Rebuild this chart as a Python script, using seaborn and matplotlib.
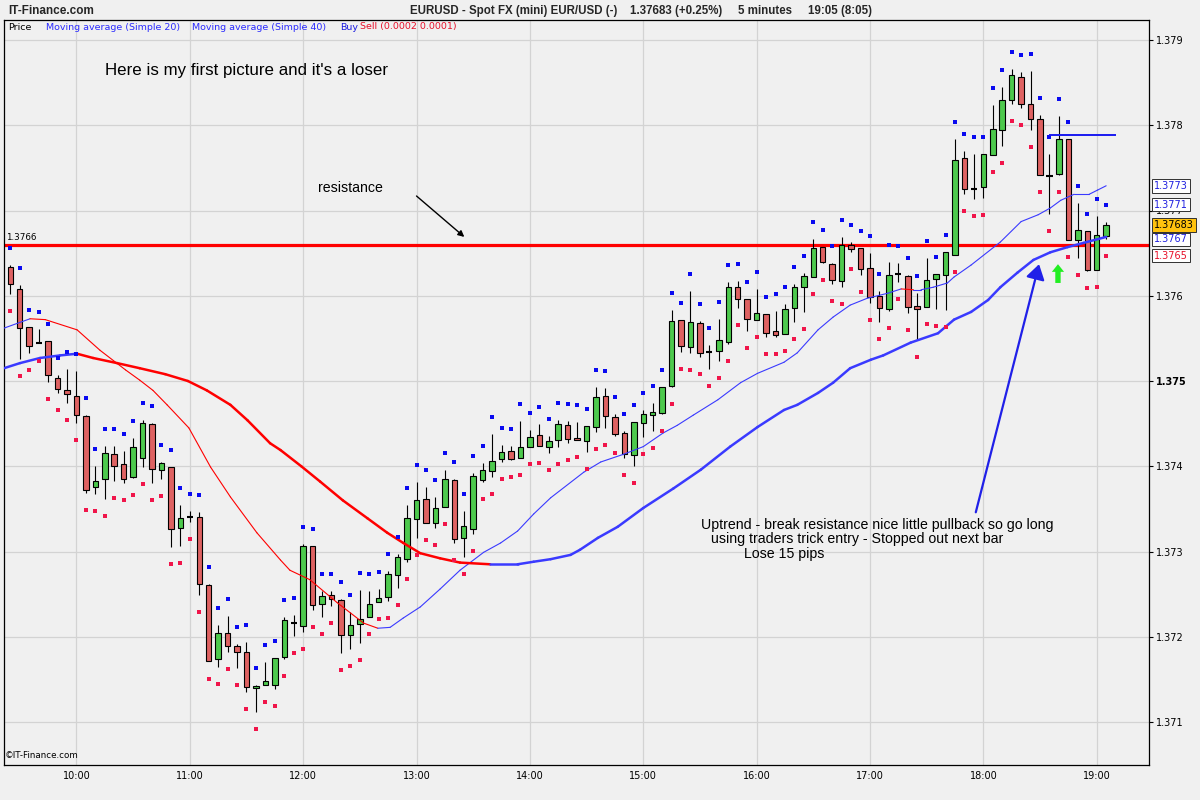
import numpy as np
import pandas as pd
import matplotlib
matplotlib.use("Agg")
import matplotlib.pyplot as plt
import seaborn as sns
from matplotlib.collections import LineCollection
from matplotlib.transforms import blended_transform_factory

# ---------------- data (EURUSD 5-minute bars) ----------------
start_time = "09:25"
opens = [1.37634, 1.37608, 1.37563, 1.37545, 1.37547, 1.37504, 1.37489, 1.37482, 1.37459, 1.37376,
         1.37385, 1.37414, 1.37403, 1.37387, 1.37410, 1.37450, 1.37396, 1.37399, 1.37328, 1.37340,
         1.37340, 1.37261, 1.37174, 1.37204, 1.37189, 1.37182, 1.37140, 1.37143, 1.37143, 1.37176,
         1.37216, 1.37213, 1.37306, 1.37238, 1.37249, 1.37243, 1.37202, 1.37215, 1.37223, 1.37241,
         1.37247, 1.37272, 1.37291, 1.37338, 1.37362, 1.37333, 1.37352, 1.37384, 1.37316, 1.37326,
         1.37384, 1.37394, 1.37409, 1.37418, 1.37410, 1.37423, 1.37437, 1.37423, 1.37431, 1.37448,
         1.37433, 1.37430, 1.37446, 1.37482, 1.37458, 1.37439, 1.37413, 1.37451, 1.37460, 1.37462,
         1.37494, 1.37572, 1.37540, 1.37568, 1.37534, 1.37535, 1.37546, 1.37610, 1.37596, 1.37572,
         1.37579, 1.37559, 1.37555, 1.37586, 1.37610, 1.37622, 1.37657, 1.37637, 1.37617, 1.37660,
         1.37656, 1.37633, 1.37600, 1.37584, 1.37625, 1.37623, 1.37588, 1.37587, 1.37620, 1.37624,
         1.37648, 1.37762, 1.37725, 1.37728, 1.37765, 1.37794, 1.37830, 1.37857, 1.37825, 1.37807,
         1.37740, 1.37743, 1.37784, 1.37665, 1.37676, 1.37630, 1.37670]
highs = [1.37636, 1.37613, 1.37563, 1.37561, 1.37547, 1.37507, 1.37514, 1.37512, 1.37460, 1.37400,
         1.37424, 1.37424, 1.37418, 1.37433, 1.37454, 1.37451, 1.37405, 1.37399, 1.37355, 1.37348,
         1.37346, 1.37262, 1.37214, 1.37224, 1.37192, 1.37194, 1.37143, 1.37170, 1.37175, 1.37223,
         1.37226, 1.37309, 1.37306, 1.37254, 1.37254, 1.37244, 1.37229, 1.37255, 1.37254, 1.37256,
         1.37277, 1.37297, 1.37355, 1.37382, 1.37376, 1.37364, 1.37396, 1.37385, 1.37348, 1.37392,
         1.37404, 1.37438, 1.37425, 1.37424, 1.37453, 1.37443, 1.37450, 1.37436, 1.37454, 1.37453,
         1.37452, 1.37447, 1.37493, 1.37492, 1.37461, 1.37441, 1.37452, 1.37466, 1.37474, 1.37493,
         1.37583, 1.37572, 1.37606, 1.37570, 1.37542, 1.37573, 1.37616, 1.37617, 1.37596, 1.37608,
         1.37579, 1.37582, 1.37590, 1.37614, 1.37627, 1.37667, 1.37657, 1.37638, 1.37669, 1.37663,
         1.37656, 1.37650, 1.37606, 1.37640, 1.37638, 1.37624, 1.37603, 1.37644, 1.37626, 1.37651,
         1.37784, 1.37770, 1.37766, 1.37766, 1.37824, 1.37845, 1.37866, 1.37862, 1.37864, 1.37812,
         1.37766, 1.37811, 1.37784, 1.37709, 1.37676, 1.37694, 1.37687]
lows = [1.37602, 1.37526, 1.37533, 1.37544, 1.37499, 1.37486, 1.37474, 1.37451, 1.37369, 1.37368,
        1.37362, 1.37383, 1.37380, 1.37386, 1.37399, 1.37380, 1.37385, 1.37305, 1.37306, 1.37335,
        1.37249, 1.37171, 1.37165, 1.37182, 1.37163, 1.37135, 1.37112, 1.37143, 1.37139, 1.37174,
        1.37201, 1.37206, 1.37231, 1.37223, 1.37236, 1.37181, 1.37186, 1.37193, 1.37223, 1.37241,
        1.37242, 1.37257, 1.37288, 1.37316, 1.37333, 1.37328, 1.37352, 1.37310, 1.37294, 1.37321,
        1.37382, 1.37387, 1.37405, 1.37407, 1.37410, 1.37423, 1.37424, 1.37416, 1.37423, 1.37427,
        1.37431, 1.37417, 1.37440, 1.37445, 1.37436, 1.37410, 1.37400, 1.37434, 1.37441, 1.37461,
        1.37493, 1.37534, 1.37533, 1.37528, 1.37514, 1.37524, 1.37543, 1.37586, 1.37559, 1.37572,
        1.37552, 1.37552, 1.37555, 1.37569, 1.37581, 1.37622, 1.37638, 1.37614, 1.37610, 1.37651,
        1.37624, 1.37592, 1.37569, 1.37582, 1.37616, 1.37580, 1.37548, 1.37587, 1.37584, 1.37583,
        1.37648, 1.37719, 1.37713, 1.37715, 1.37765, 1.37776, 1.37825, 1.37820, 1.37794, 1.37742,
        1.37696, 1.37742, 1.37665, 1.37644, 1.37629, 1.37630, 1.37667]
closes = [1.37614, 1.37562, 1.37541, 1.37545, 1.37507, 1.37491, 1.37485, 1.37460, 1.37372, 1.37383,
          1.37416, 1.37400, 1.37385, 1.37423, 1.37451, 1.37397, 1.37404, 1.37326, 1.37339, 1.37340,
          1.37262, 1.37172, 1.37204, 1.37189, 1.37182, 1.37141, 1.37142, 1.37148, 1.37175, 1.37220,
          1.37216, 1.37306, 1.37237, 1.37248, 1.37244, 1.37202, 1.37214, 1.37221, 1.37238, 1.37245,
          1.37274, 1.37294, 1.37339, 1.37360, 1.37333, 1.37351, 1.37385, 1.37315, 1.37330, 1.37389,
          1.37396, 1.37406, 1.37417, 1.37409, 1.37423, 1.37434, 1.37424, 1.37430, 1.37450, 1.37432,
          1.37431, 1.37447, 1.37481, 1.37459, 1.37438, 1.37414, 1.37452, 1.37461, 1.37464, 1.37493,
          1.37570, 1.37541, 1.37569, 1.37533, 1.37534, 1.37548, 1.37610, 1.37596, 1.37573, 1.37580,
          1.37556, 1.37554, 1.37584, 1.37610, 1.37623, 1.37656, 1.37640, 1.37619, 1.37660, 1.37655,
          1.37631, 1.37599, 1.37586, 1.37624, 1.37625, 1.37587, 1.37584, 1.37619, 1.37626, 1.37651,
          1.37759, 1.37725, 1.37725, 1.37766, 1.37796, 1.37830, 1.37859, 1.37825, 1.37807, 1.37742,
          1.37740, 1.37784, 1.37665, 1.37677, 1.37630, 1.37671, 1.37683]

# simple moving averages (bar number, price)
ma20_bar = [-0.67, 2.09, 3.7, 7.07, 9.5, 12.2, 13.7, 15.1, 16.6, 18.9, 21.2, 23.3, 26.1, 28.6, 29.6,
            31.7, 34.6, 37.4, 38.9, 40.2, 41.6, 43.4, 45.5, 47.6, 50.1, 51.9, 53.7, 55.4, 57.2, 60.7,
            62.5, 64.9, 67.0, 69.1, 70.6, 72.3, 74.9, 77.3, 79.1, 81.9, 83.3, 85.5, 87.1, 88.9, 90.7,
            92.9, 94.3, 95.6, 96.4, 97.7, 99.2, 99.9, 101.7, 104.8, 107.0, 108.8, 110.1, 111.2, 112.6,
            114.2, 115.1, 116.0]
ma20_val = [1.37562, 1.37573, 1.37572, 1.37560, 1.37536, 1.37513, 1.37501, 1.37489, 1.37472, 1.37445,
            1.37399, 1.37364, 1.37322, 1.37290, 1.37278, 1.37267, 1.37240, 1.37216, 1.37210, 1.37211,
            1.37222, 1.37235, 1.37256, 1.37278, 1.37299, 1.37310, 1.37324, 1.37344, 1.37363, 1.37393,
            1.37405, 1.37414, 1.37423, 1.37439, 1.37448, 1.37460, 1.37478, 1.37498, 1.37509, 1.37522,
            1.37533, 1.37560, 1.37575, 1.37589, 1.37597, 1.37603, 1.37608, 1.37607, 1.37607, 1.37610,
            1.37615, 1.37622, 1.37636, 1.37663, 1.37687, 1.37695, 1.37703, 1.37712, 1.37719, 1.37719,
            1.37724, 1.37729]
ma40_bar = [-0.67, 1.03, 3.15, 5.26, 7.07, 8.76, 11.3, 13.7, 16.4, 18.8, 20.8, 23.3, 25.1, 27.5, 28.6,
            30.8, 32.8, 35.2, 37.8, 39.9, 41.6, 43.4, 45.5, 47.6, 50.8, 53.7, 55.4, 57.2, 59.3, 60.3,
            62.2, 64.3, 67.0, 70.2, 73.1, 76.2, 79.1, 81.9, 83.3, 85.5, 87.1, 88.9, 91.1, 92.4, 95.3,
            98.2, 99.9, 101.7, 103.5, 104.8, 106.6, 108.3, 110.1, 111.9, 113.6, 116.0]
ma40_val = [1.37515, 1.37521, 1.37527, 1.37530, 1.37532, 1.37527, 1.37521, 1.37515, 1.37508, 1.37500,
            1.37489, 1.37472, 1.37454, 1.37427, 1.37419, 1.37400, 1.37382, 1.37360, 1.37339, 1.37322,
            1.37310, 1.37298, 1.37292, 1.37287, 1.37285, 1.37285, 1.37288, 1.37291, 1.37296, 1.37302,
            1.37316, 1.37329, 1.37351, 1.37374, 1.37396, 1.37423, 1.37446, 1.37466, 1.37472, 1.37486,
            1.37498, 1.37515, 1.37525, 1.37530, 1.37545, 1.37556, 1.37572, 1.37581, 1.37595, 1.37610,
            1.37627, 1.37642, 1.37651, 1.37657, 1.37662, 1.37669]

signal_offset = 0.0002          # Buy / Sell dots distance from high / low
resistance = 1.3766
stop_level = 1.37788
stop_bars = [110.0, 117.0]
price_ticks = [1.371, 1.372, 1.373, 1.374, 1.375, 1.376, 1.377, 1.378, 1.379]
bold_tick = 1.375

# annotation anchors (bar number, price)
arrow_black = [(43.0, 1.37717), (48.06, 1.37669)]
arrow_blue = [(102.2, 1.37346), (108.9, 1.37637)]
arrow_green = [(110.9, 1.37615), (110.9, 1.37637)]

# ---------------- frame ----------------
n = len(opens)
times = pd.date_range("2000-01-01 " + start_time, periods=n, freq="5min")
df = pd.DataFrame({"bar": np.arange(n), "open": opens, "high": highs,
                   "low": lows, "close": closes})
df["buy"] = df["high"] + signal_offset
df["sell"] = df["low"] - signal_offset
hour_pos = [i for i, t in enumerate(times) if t.minute == 0]
hour_lab = [times[i].strftime("%H:%M") for i in hour_pos]

BG = "#F0F0F0"
GREEN = "#4DC94D"
RED = "#DE6262"
MA_BLUE = "#3A3AFF"
MA_RED = "#FF0000"

sns.set_theme(style="white", rc={"axes.facecolor": BG, "figure.facecolor": BG,
                                 "axes.edgecolor": "black"})
plt.rcParams["font.family"] = ["DejaVu Sans"]

W, H = 1200, 800
fig = plt.figure(figsize=(12, 8), dpi=100, facecolor=BG)
ax_l, ax_r, ax_t, ax_b = 4, 1149, 20, 765
ax = fig.add_axes([ax_l / W, 1 - ax_b / H, (ax_r - ax_l) / W, (ax_b - ax_t) / H])
ax.set_facecolor(BG)

px_per_bar = 9.447
px_per_unit = 85250.0
ax.set_xlim(-(10.3 - ax_l) / px_per_bar, (ax_r - 10.3) / px_per_bar)
ax.set_ylim(1.379 - (ax_b - 40) / px_per_unit, 1.379 + (40 - ax_t) / px_per_unit)

# grid
ax.set_yticks(price_ticks)
ax.set_xticks(hour_pos)
ax.grid(True, color="#D3D3D3", lw=0.9)
ax.set_axisbelow(True)

# resistance
ax.axhline(resistance, color="#FF0000", lw=2.3, zorder=2)

# wicks
ax.vlines(df["bar"], df["low"], df["high"], color="black", lw=0.8, zorder=3)

# bodies
body = df[df["close"] != df["open"]]
bcol = np.where(body["close"] > body["open"], GREEN, RED)
ax.bar(body["bar"], (body["close"] - body["open"]).abs(),
       bottom=body[["open", "close"]].min(axis=1), width=0.58,
       color=bcol, edgecolor="black", linewidth=0.8, zorder=4)
doji = df[df["close"] == df["open"]]
ax.hlines(doji["close"], doji["bar"] - 0.33, doji["bar"] + 0.33, color="black", lw=1.5, zorder=4)


def ma_line(xs, ys, lw):
    pts = np.column_stack([xs, ys])
    segs = np.stack([pts[:-1], pts[1:]], axis=1)
    cols = [MA_RED if b < a else MA_BLUE for a, b in zip(ys[:-1], ys[1:])]
    lc = LineCollection(segs, colors=cols, linewidths=lw, zorder=5, capstyle="round")
    ax.add_collection(lc)


ma_line(ma20_bar, ma20_val, 0.8)
ma_line(ma40_bar, ma40_val, 1.8)

# buy / sell dots
sns.scatterplot(data=df, x="bar", y="buy", color="#0A0AF0", marker="s", s=5,
                linewidth=0, ax=ax, zorder=6)
sns.scatterplot(data=df, x="bar", y="sell", color="#F0154A", marker="s", s=5,
                linewidth=0, ax=ax, zorder=6)
ax.set_xlabel("")
ax.set_ylabel("")

# stop line
ax.hlines(stop_level, stop_bars[0], stop_bars[1], color="#1A1AF0", lw=1.4, zorder=6)

# arrows
ax.annotate("", xy=arrow_black[1], xytext=arrow_black[0],
            arrowprops=dict(arrowstyle="-|>", color="black", lw=1.0,
                            mutation_scale=9, shrinkA=0, shrinkB=0), zorder=7)
ax.annotate("", xy=arrow_blue[1], xytext=arrow_blue[0],
            arrowprops=dict(arrowstyle="-|>,head_length=0.6,head_width=0.38", color="#2020E8",
                            lw=1.6, mutation_scale=15, shrinkA=0, shrinkB=0), zorder=7)
ax.annotate("", xy=arrow_green[1], xytext=arrow_green[0],
            arrowprops=dict(arrowstyle="simple,head_length=0.5,head_width=0.8,tail_width=0.35",
                            fc="#22EE22", ec="none", mutation_scale=11,
                            shrinkA=0, shrinkB=0), zorder=7)

# axes styling
for sp in ax.spines.values():
    sp.set_visible(True)
    sp.set_color("black")
    sp.set_linewidth(0.9)
ax.yaxis.tick_right()
ax.tick_params(axis="y", direction="out", length=3, width=0.8, pad=2, labelsize=7,
               colors="black", right=True, left=False)
ax.tick_params(axis="x", length=0, pad=4, labelsize=7, colors="black", bottom=True)
ax.set_yticklabels([f"{v:.3f}" for v in price_ticks])
for lab, v in zip(ax.get_yticklabels(), price_ticks):
    if abs(v - bold_tick) < 1e-9:
        lab.set_fontweight("bold")
ax.set_xticklabels(hour_lab)

# right-hand price boxes
tr = blended_transform_factory(ax.transAxes, ax.transData)
boxes = [
    (ma20_val[-1], f"{ma20_val[-1]:.4f}", "#2020E0", "white"),
    (df["buy"].iloc[-1], f"{df['buy'].iloc[-1]:.4f}", "#2020E0", "white"),
    (ma40_val[-1] - 0.00003, f"{ma40_val[-1]:.4f}", "#2020E0", "white"),
    (closes[-1], f"{closes[-1]:.5f}", "black", "#FFC20E"),
    (df["sell"].iloc[-1], f"{df['sell'].iloc[-1]:.4f}", "#E8102A", "white"),
]
for val, txt, tc, fc in boxes:
    ax.text(1.0045, val, txt, transform=tr, ha="left", va="center", fontsize=7.0, color=tc,
            bbox=dict(boxstyle="square,pad=0.18", fc=fc, ec="#303030", lw=0.7),
            zorder=10, clip_on=False)

ax.text(0.002, resistance + 0.00003, f"{resistance:.4f}", transform=tr, ha="left",
        va="bottom", fontsize=6.3, color="black", zorder=8)


def ftext(x, y, s, **kw):
    fig.text(x / W, 1 - y / H, s, va="center", ha="left", **kw)


# header
ftext(8, 11, "IT-Finance.com", fontsize=8.5, fontweight="bold", family=["Liberation Sans"])
ftext(410, 11, "EURUSD - Spot FX (mini) EUR/USD (-)", fontsize=8.3, fontweight="bold",
      family=["Liberation Sans"])
ftext(630, 11, f"{closes[-1]:.5f} (+0.25%)", fontsize=8.3, fontweight="bold",
      family=["Liberation Sans"])
ftext(738, 11, "5 minutes", fontsize=8.3, fontweight="bold", family=["Liberation Sans"])
ftext(808, 11, "19:05 (8:05)", fontsize=8.3, fontweight="bold", family=["Liberation Sans"])

# legend strip
ftext(8, 27, "Price", fontsize=6.8, color="black")
ftext(46, 27, "Moving average (Simple 20)", fontsize=6.8, color="#2B2BFF")
ftext(192, 27, "Moving average (Simple 40)", fontsize=6.8, color="#2B2BFF")
ftext(340, 27, "Buy", fontsize=6.8, color="#1A1AE0")
ftext(360, 27, "Sell (0.0002 0.0001)", fontsize=6.8, color="#E8102A")

# annotations
ftext(105, 71, "Here is my first picture and it's a loser", fontsize=12.2,
      family=["Liberation Sans"], color="black")
ftext(318, 188, "resistance", fontsize=10.2, family=["Liberation Sans"], color="black")
ftext(701, 525, "Uptrend - break resistance nice little pullback so go long", fontsize=10.2,
      family=["Liberation Sans"], color="black")
ftext(711, 539, "using traders trick entry - Stopped out next bar", fontsize=10.2,
      family=["Liberation Sans"], color="black")
ftext(744, 554, "Lose 15 pips", fontsize=10.2, family=["Liberation Sans"], color="black")
ftext(5, 756, "\u00a9IT-Finance.com", fontsize=6.3, color="black")

fig.savefig("out.png", dpi=100, facecolor=BG)
